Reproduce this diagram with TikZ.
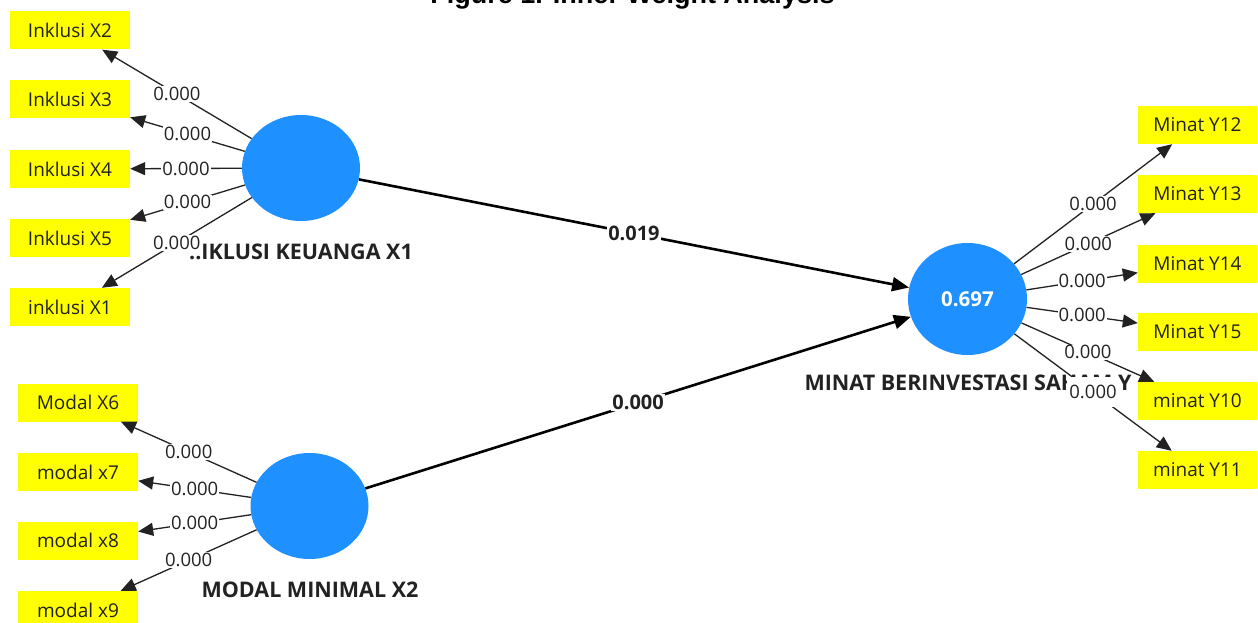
\documentclass[tikz,border=0pt]{standalone}
\usepackage{fontspec}
\setmainfont{Open Sans}
\newfontfamily\titlefont{Liberation Sans}
\usetikzlibrary{shapes.geometric,arrows.meta}
\definecolor{lvblue}{RGB}{30,144,255}
\definecolor{indy}{RGB}{255,255,0}
\definecolor{txt}{RGB}{34,34,34}
\begin{document}
\begin{tikzpicture}[x=1pt,y=-1pt,
  latent/.style={ellipse, fill=lvblue, minimum width=118pt, minimum height=106pt, inner sep=0pt, text=white, font=\bfseries\fontsize{20.5}{22}\selectfont},
  indicator/.style={fill=indy, minimum width=120pt, minimum height=38pt, inner sep=0pt, font=\fontsize{19}{21}\selectfont, text=txt},
  outer/.style={draw=txt, line width=1.3pt, -{Triangle[length=15pt,width=13pt]}},
  innerarr/.style={draw=black, line width=2.6pt, -{Triangle[length=17pt,width=14pt]}},
  wlab/.style={fill=white, inner sep=1pt, font=\fontsize{18.5}{20}\selectfont, text=txt},
  plab/.style={fill=white, inner sep=1pt, font=\bfseries\fontsize{20}{22}\selectfont, text=txt},
  cname/.style={font=\bfseries\fontsize{21.5}{23}\selectfont, text=txt}]
\useasboundingbox (0,0) rectangle (1258,623);
\clip (0,0) rectangle (1258,623);
\fill[white] (0,0) rectangle (1258,623);

% title (cut at the top)
\node[anchor=base, inner sep=0pt, font=\titlefont\bfseries\fontsize{27}{30}\selectfont] (title) at (632.5,4) {Figure 1. Inner Weight Analysis};

% latent variables
\node[latent] (X1) at (301,168) {};
\node[latent] (X2) at (309.5,506) {};
\node[latent, minimum width=119pt, minimum height=112pt] (Y) at (967.5,299) {0.697};

% construct names
\node[cname] (nX1) at (301,252) {..IKLUSI KEUANGA X1};
\node[cname] (nX2) at (310,590) {MODAL MINIMAL X2};
\node[cname] (nY) at (968,383) {MINAT BERINVESTASI SAHAM Y};

% indicators X1
\node[indicator] (i2) at (70,30.5) {Inklusi X2};
\node[indicator] (i3) at (70,99.5) {Inklusi X3};
\node[indicator] (i4) at (70,169) {Inklusi X4};
\node[indicator] (i5) at (70,238) {Inklusi X5};
\node[indicator] (i1) at (70,307) {inklusi X1};

% indicators X2
\node[indicator] (m6) at (78,402.5) {Modal X6};
\node[indicator] (m7) at (78,472) {modal x7};
\node[indicator] (m8) at (78,540.5) {modal x8};
\node[indicator] (m9) at (78,610) {modal x9};

% indicators Y
\node[indicator, minimum width=119pt] (y12) at (1197.5,125) {Minat Y12};
\node[indicator, minimum width=119pt] (y13) at (1197.5,194) {Minat Y13};
\node[indicator, minimum width=119pt] (y14) at (1197.5,263.5) {Minat Y14};
\node[indicator, minimum width=119pt] (y15) at (1197.5,331.5) {Minat Y15};
\node[indicator, minimum width=119pt] (y10) at (1197.5,401) {minat Y10};
\node[indicator, minimum width=119pt] (y11) at (1197.5,470) {minat Y11};

% outer model X1
\draw[outer] (X1) -- node[wlab] {0.000} (i2);
\draw[outer] (X1) -- node[wlab] {0.000} (i3);
\draw[outer] (X1) -- node[wlab] {0.000} (i4);
\draw[outer] (X1) -- node[wlab] {0.000} (i5);
\draw[outer] (X1) -- node[wlab] {0.000} (i1);

% outer model X2
\draw[outer] (X2) -- node[wlab] {0.000} (m6);
\draw[outer] (X2) -- node[wlab] {0.000} (m7);
\draw[outer] (X2) -- node[wlab] {0.000} (m8);
\draw[outer] (X2) -- node[wlab] {0.000} (m9);

% outer model Y
\draw[outer] (Y) -- node[wlab] {0.000} (y12);
\draw[outer] (Y) -- node[wlab] {0.000} (y13);
\draw[outer] (Y) -- node[wlab] {0.000} (y14);
\draw[outer] (Y) -- node[wlab] {0.000} (y15);
\draw[outer] (Y) -- node[wlab] {0.000} (y10);
\draw[outer] (Y) -- node[wlab, inner ysep=8pt, inner xsep=2pt] {0.000} (y11);

% inner model
\draw[innerarr] (X1) -- node[plab] {0.019} (Y);
\draw[innerarr] (X2) -- node[plab] {0.000} (Y);
\end{tikzpicture}
\end{document}
